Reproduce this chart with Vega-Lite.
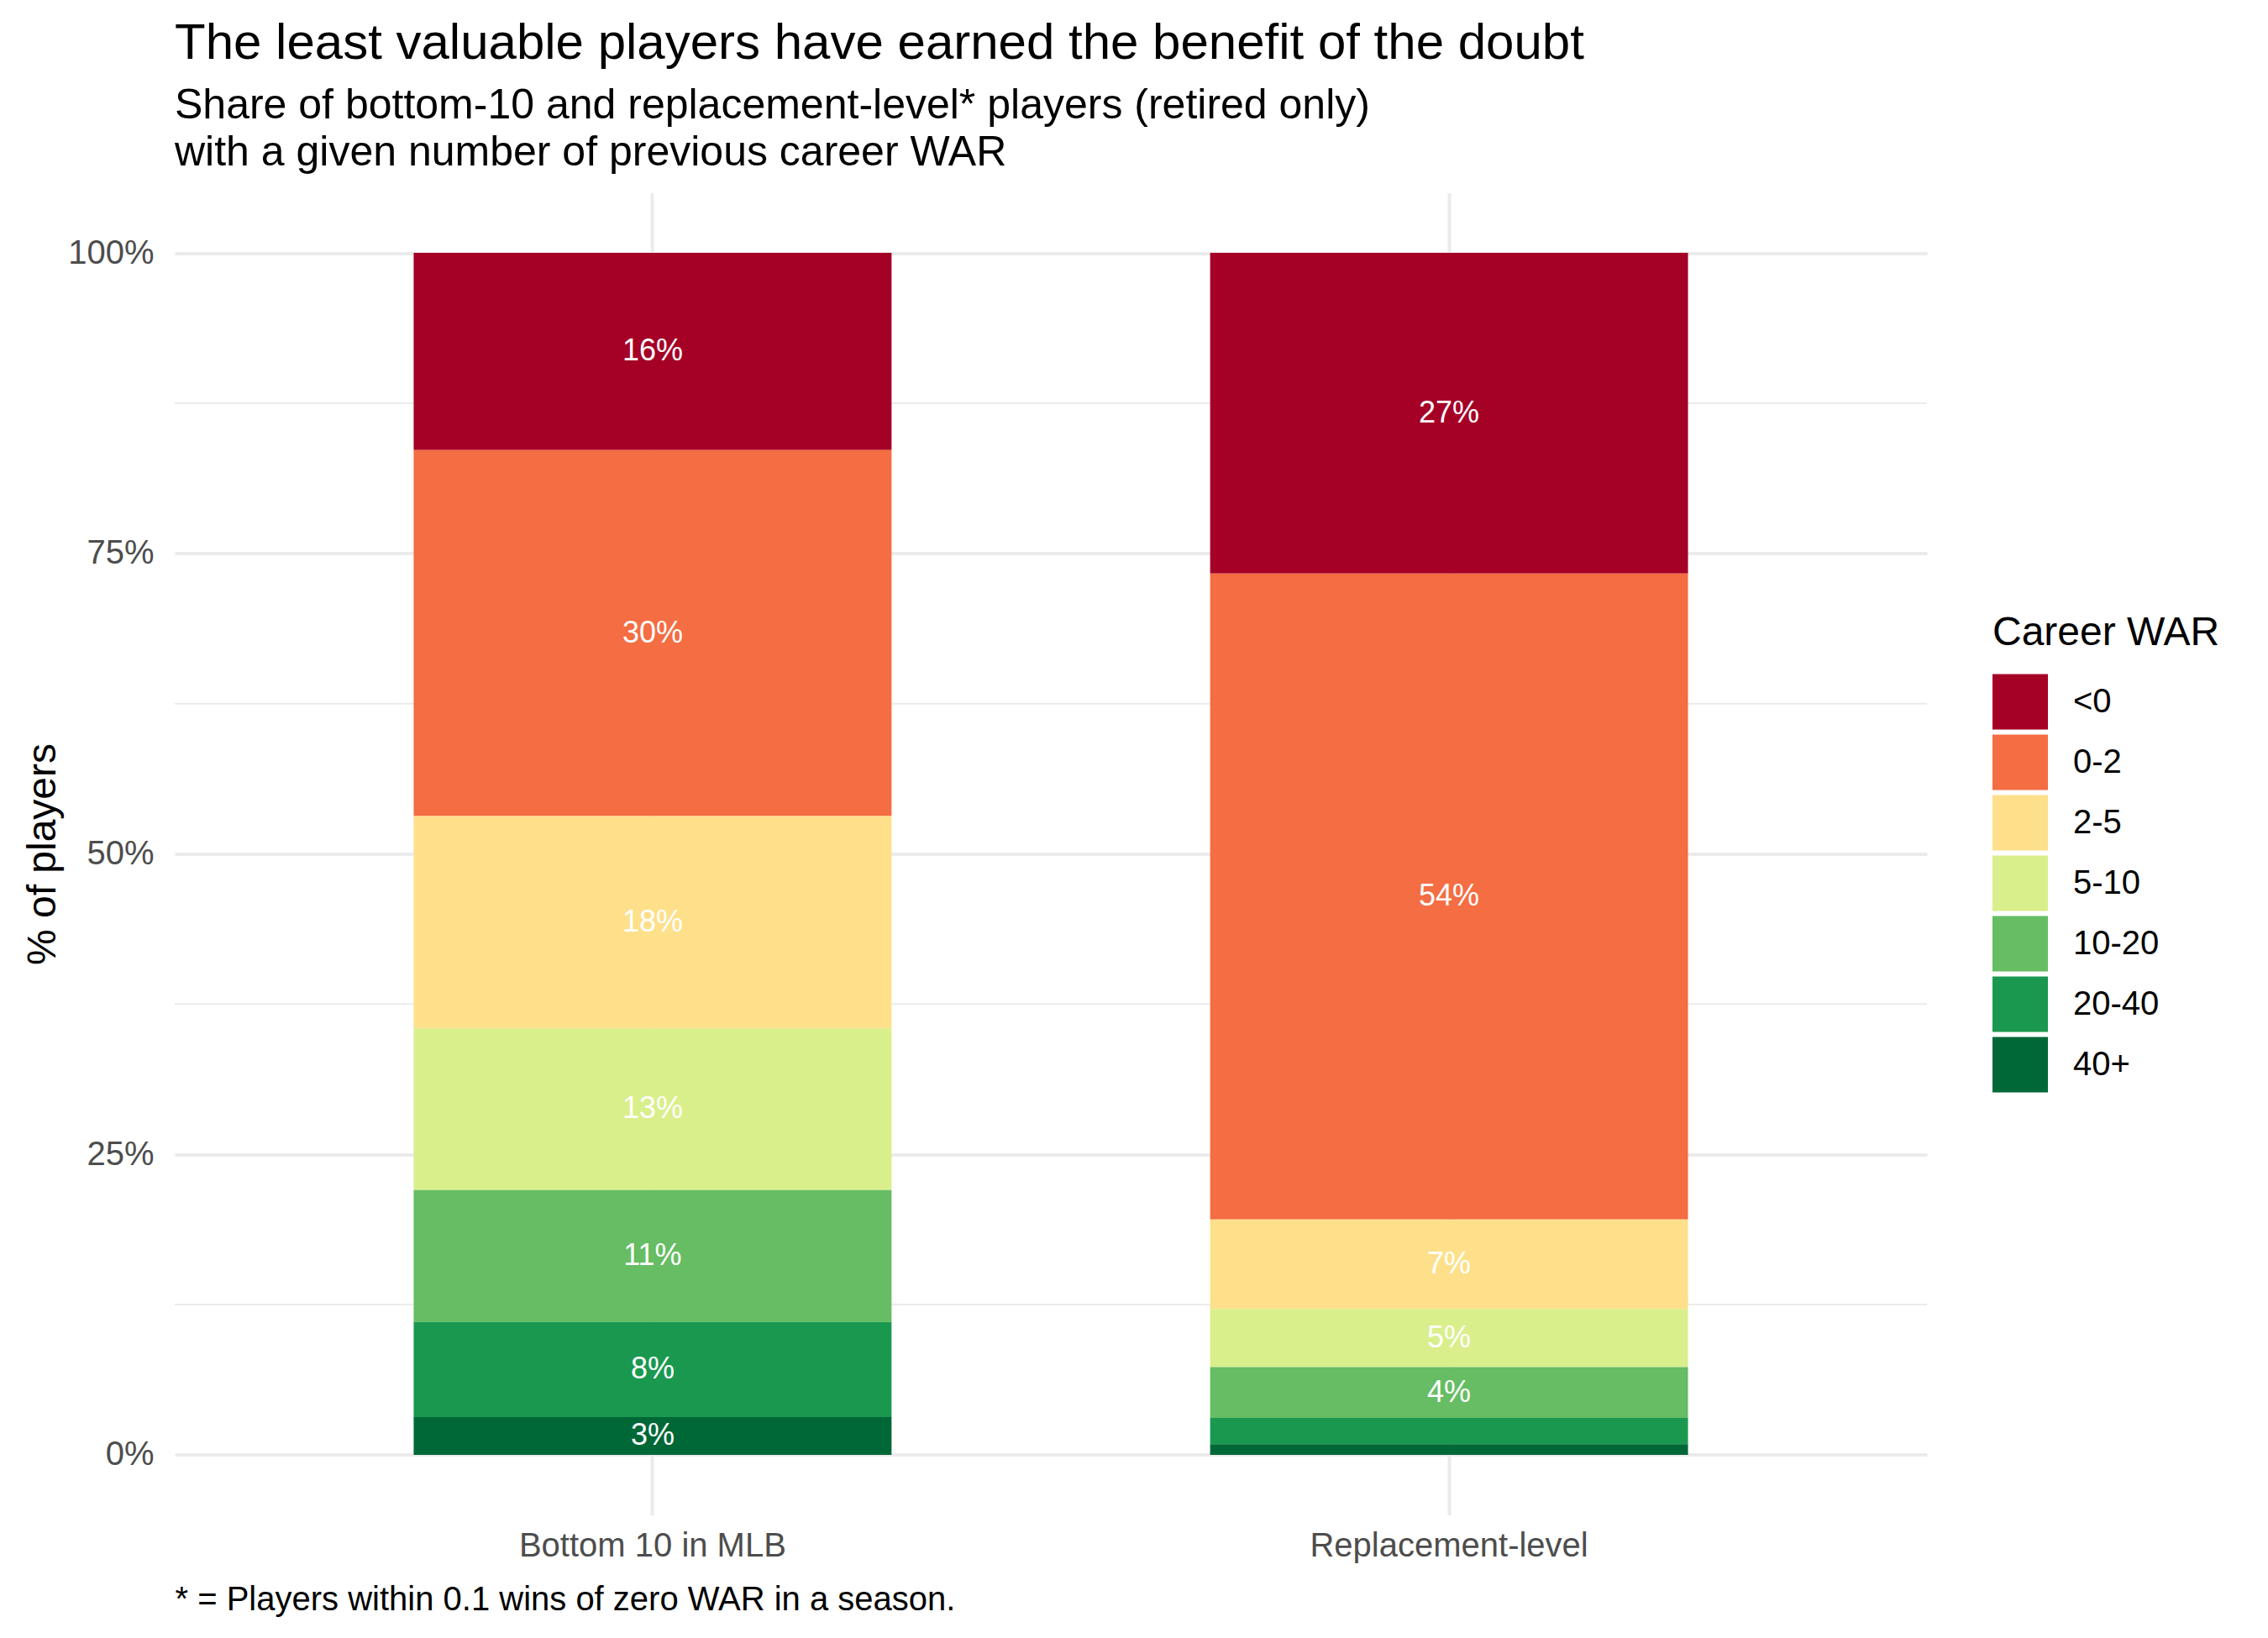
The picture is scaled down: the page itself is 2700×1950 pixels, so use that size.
{
  "$schema": "https://vega.github.io/schema/vega-lite/v6.json",
  "autosize": {"type": "none"},
  "width": 2086,
  "height": 1574,
  "padding": {"left": 208, "top": 229.5, "right": 406, "bottom": 146.5},
  "background": "white",
  "title": {
    "text": "The least valuable players have earned the benefit of the doubt",
    "subtitle": [
      "Share of bottom-10 and replacement-level* players (retired only)",
      "with a given number of previous career WAR"
    ],
    "anchor": "start",
    "frame": "group",
    "offset": 22,
    "font": "Liberation Sans",
    "fontSize": 60,
    "fontWeight": "normal",
    "color": "black",
    "subtitleFont": "Liberation Sans",
    "subtitleFontSize": 50,
    "subtitleColor": "black",
    "subtitleLineHeight": 56,
    "subtitlePadding": 18,
    "limit": 0
  },
  "datasets": {
    "shares": [
      {"group": "Bottom 10 in MLB", "war": "<0", "share": 0.164},
      {"group": "Bottom 10 in MLB", "war": "0-2", "share": 0.3045},
      {"group": "Bottom 10 in MLB", "war": "2-5", "share": 0.1767},
      {"group": "Bottom 10 in MLB", "war": "5-10", "share": 0.1345},
      {"group": "Bottom 10 in MLB", "war": "10-20", "share": 0.1098},
      {"group": "Bottom 10 in MLB", "war": "20-40", "share": 0.0791},
      {"group": "Bottom 10 in MLB", "war": "40+", "share": 0.0314},
      {"group": "Replacement-level", "war": "<0", "share": 0.2667},
      {"group": "Replacement-level", "war": "0-2", "share": 0.5374},
      {"group": "Replacement-level", "war": "2-5", "share": 0.0745},
      {"group": "Replacement-level", "war": "5-10", "share": 0.0484},
      {"group": "Replacement-level", "war": "10-20", "share": 0.0423},
      {"group": "Replacement-level", "war": "20-40", "share": 0.0218},
      {"group": "Replacement-level", "war": "40+", "share": 0.0089}
    ],
    "minor": [
      {"v": 0.125}, {"v": 0.375}, {"v": 0.625}, {"v": 0.875}
    ]
  },
  "data": {"name": "shares"},
  "layer": [
    {
      "data": {"name": "minor"},
      "mark": {"type": "rule", "color": "#EBEBEB", "strokeWidth": 2},
      "encoding": {
        "y": {
          "field": "v",
          "type": "quantitative",
          "scale": {"domain": [-0.05, 1.05], "nice": false, "zero": false},
          "axis": {"values": [0, 0.25, 0.5, 0.75, 1], "format": ".0%", "title": "% of players"}
        }
      }
    },
    {
      "transform": [
        {"calculate": "indexof(['40+','20-40','10-20','5-10','2-5','0-2','<0'], datum.war)", "as": "k"},
        {"stack": "share", "groupby": ["group"], "sort": [{"field": "k", "order": "ascending"}], "as": ["y0", "y1"]}
      ],
      "mark": {"type": "bar"},
      "encoding": {
        "x": {
          "field": "group",
          "type": "nominal",
          "scale": {"paddingInner": 0.4, "paddingOuter": 0.3},
          "axis": {"title": "* = Players within 0.1 wins of zero WAR in a season."}
        },
        "y": {
          "field": "y0",
          "type": "quantitative",
          "scale": {"domain": [-0.05, 1.05], "nice": false, "zero": false},
          "axis": {"values": [0, 0.25, 0.5, 0.75, 1], "format": ".0%", "title": "% of players"}
        },
        "y2": {"field": "y1"},
        "color": {
          "field": "war",
          "type": "nominal",
          "title": "Career WAR",
          "scale": {
            "domain": ["<0", "0-2", "2-5", "5-10", "10-20", "20-40", "40+"],
            "range": ["#A50026", "#F46D43", "#FEE08B", "#D9EF8B", "#66BD63", "#1A9850", "#006837"]
          }
        }
      }
    },
    {
      "transform": [
        {"calculate": "indexof(['40+','20-40','10-20','5-10','2-5','0-2','<0'], datum.war)", "as": "k"},
        {"stack": "share", "groupby": ["group"], "sort": [{"field": "k", "order": "ascending"}], "as": ["y0", "y1"]},
        {"calculate": "(datum.y0 + datum.y1) / 2", "as": "mid"},
        {"filter": "datum.share >= 0.03"}
      ],
      "mark": {"type": "text", "color": "white", "font": "Liberation Sans", "fontSize": 36, "baseline": "middle"},
      "encoding": {
        "x": {
          "field": "group",
          "type": "nominal",
          "axis": {"title": "* = Players within 0.1 wins of zero WAR in a season."}
        },
        "y": {
          "field": "mid",
          "type": "quantitative",
          "scale": {"domain": [-0.05, 1.05], "nice": false, "zero": false},
          "axis": {"values": [0, 0.25, 0.5, 0.75, 1], "format": ".0%", "title": "% of players"}
        },
        "text": {"field": "share", "type": "quantitative", "format": ".0%"}
      }
    }
  ],
  "config": {
    "view": {"stroke": null},
    "font": "Liberation Sans",
    "axis": {
      "domain": false,
      "ticks": false,
      "grid": true,
      "gridColor": "#EBEBEB",
      "gridWidth": 4,
      "labelFont": "Liberation Sans",
      "labelFontSize": 40,
      "labelColor": "#4D4D4D",
      "labelLimit": 0,
      "titleFont": "Liberation Sans",
      "titleFontWeight": "normal",
      "titleColor": "black",
      "titleLimit": 0
    },
    "axisX": {
      "bandPosition": 0.5,
      "labelAngle": 0,
      "labelPadding": 17,
      "titleFontSize": 40,
      "titleAnchor": "start",
      "titleAlign": "left",
      "titleBaseline": "top",
      "titlePadding": 24
    },
    "axisY": {
      "labelPadding": 25,
      "titleFontSize": 48,
      "titlePadding": 5
    },
    "legend": {
      "orient": "none",
      "legendX": 2164,
      "legendY": 500,
      "padding": 0,
      "titleFont": "Liberation Sans",
      "titleFontSize": 48,
      "titleFontWeight": "normal",
      "titleColor": "black",
      "titleLimit": 0,
      "titlePadding": 25,
      "labelFont": "Liberation Sans",
      "labelFontSize": 40,
      "labelColor": "black",
      "labelLimit": 0,
      "labelOffset": 30,
      "symbolType": "square",
      "symbolSize": 4356,
      "symbolStrokeWidth": 0,
      "symbolOpacity": 1,
      "rowPadding": 6
    }
  }
}
